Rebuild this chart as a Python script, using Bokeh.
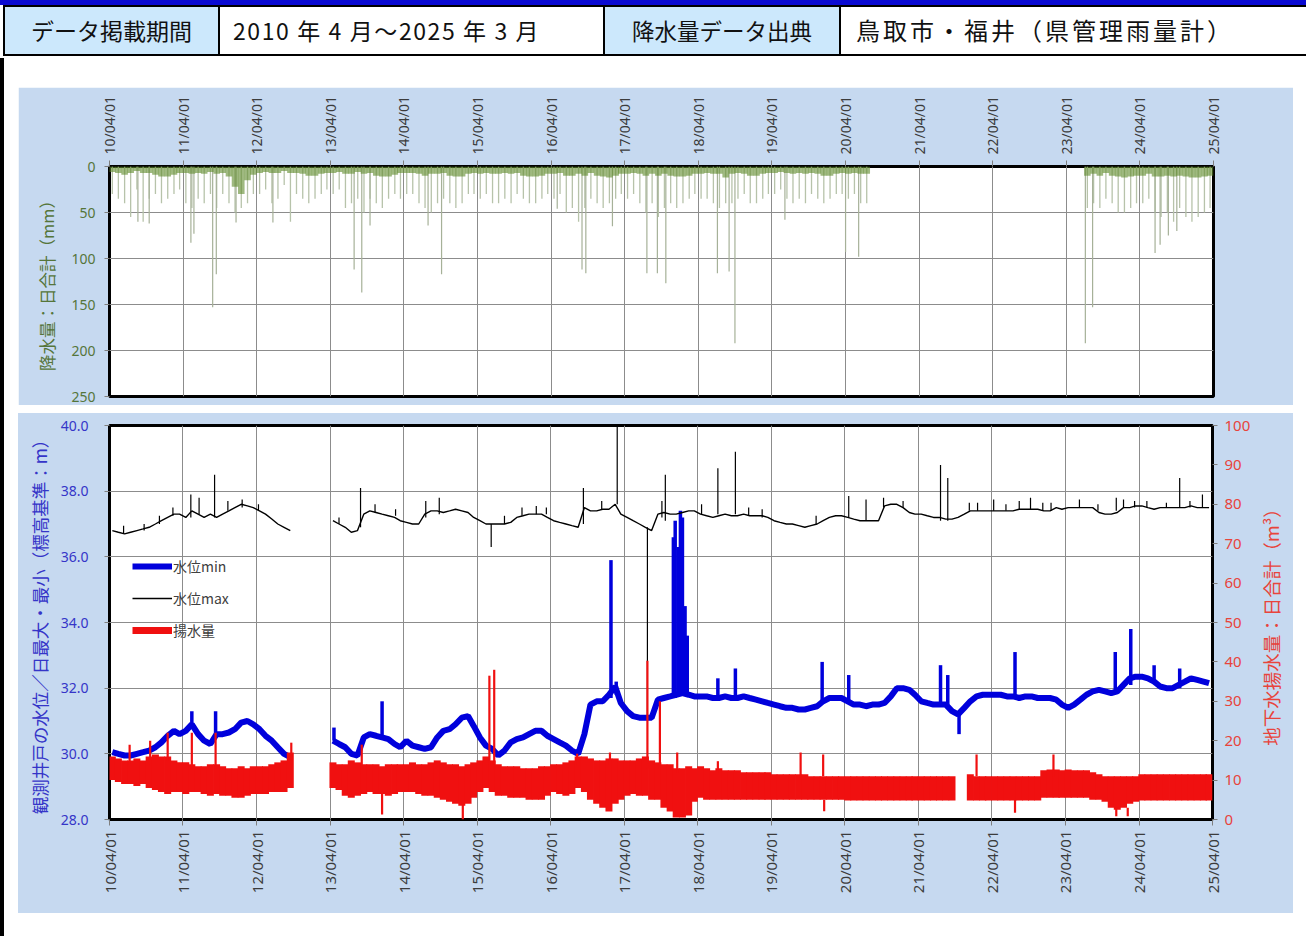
import math
import pandas as pd
from bokeh.plotting import figure
from bokeh.models import (Range1d, LinearAxis, FixedTicker, DatetimeTickFormatter,
                          NumeralTickFormatter, Div, Legend, LegendItem, Title)
from bokeh.layouts import column, row
from bokeh.embed import file_html
from bokeh.resources import INLINE

nan = float("nan")

# ------------------------------------------------------------------ data
header_cells = ["データ掲載期間", "2010 年 4 月～2025 年 3 月", "降水量データ出典", "鳥取市・福井（県管理雨量計）"]
year_ticks = ["2010-04-01", "2011-04-01", "2012-04-01", "2013-04-01", "2014-04-01", "2015-04-01",
              "2016-04-01", "2017-04-01", "2018-04-01", "2019-04-01", "2020-04-01", "2021-04-01",
              "2022-04-01", "2023-04-01", "2024-04-01", "2025-04-01"]
rain_ticks = [0, 50, 100, 150, 200, 250]
level_ticks = [28, 30, 32, 34, 36, 38, 40]
pump_ticks = [0, 10, 20, 30, 40, 50, 60, 70, 80, 90, 100]

# monthly series, April 2010 ... March 2025 (one row per fiscal year, Apr..Mar)
months = pd.date_range("2010-04-01", "2025-03-01", freq="MS") + pd.Timedelta(days=14)

level_max = [
    36.8, 36.75, 36.7, 36.75, 36.8, 36.85, 36.9, 37.0, 37.1, 37.2, 37.3, 37.3,
    37.2, 37.4, 37.3, 37.2, 37.3, 37.2, 37.3, 37.4, 37.5, 37.6, 37.55, 37.5,
    37.4, 37.3, 37.15, 37.0, 36.9, 36.8, nan, nan, nan, nan, nan, nan,
    37.1, 37.0, 36.9, 36.75, 36.8, 37.3, 37.4, 37.35, 37.3, 37.25, 37.2, 37.1,
    37.05, 37.0, 37.0, 37.3, 37.4, 37.4, 37.35, 37.4, 37.45, 37.4, 37.35, 37.2,
    37.1, 37.0, 37.0, 37.0, 37.0, 37.05, 37.2, 37.25, 37.3, 37.3, 37.3, 37.2,
    37.1, 37.05, 37.0, 36.95, 36.9, 37.5, 37.4, 37.4, 37.45, 37.45, 37.6, 37.3,
    37.2, 37.1, 37.0, 36.9, 36.8, 37.3, 37.35, 37.3, 37.3, 37.35, 37.4, 37.4,
    37.3, 37.25, 37.2, 37.25, 37.3, 37.25, 37.25, 37.3, 37.25, 37.25, 37.25, 37.2,
    37.1, 37.05, 37.0, 37.0, 36.95, 36.9, 36.95, 37.0, 37.1, 37.2, 37.25, 37.25,
    37.2, 37.15, 37.1, 37.1, 37.1, 37.1, 37.55, 37.6, 37.6, 37.5, 37.35, 37.3,
    37.3, 37.25, 37.2, 37.2, 37.15, 37.15, 37.2, 37.3, 37.4, 37.4, 37.4, 37.4,
    37.4, 37.4, 37.4, 37.4, 37.45, 37.45, 37.45, 37.45, 37.4, 37.4, 37.5, 37.45,
    37.5, 37.5, 37.5, 37.5, 37.5, 37.35, 37.3, 37.3, 37.35, 37.5, 37.5, 37.55,
    37.55, 37.5, 37.45, 37.5, 37.5, 37.5, 37.5, 37.5, 37.55, 37.5, 37.5, 37.5,
]
level_min = [
    30.05, 30.0, 29.95, 29.95, 30.0, 30.05, 30.1, 30.2, 30.35, 30.55, 30.7, 30.6,
    30.7, 30.9, 30.6, 30.4, 30.3, 30.6, 30.6, 30.65, 30.75, 30.95, 31.0, 30.9,
    30.75, 30.55, 30.4, 30.2, 30.0, 29.9, nan, nan, nan, nan, nan, nan,
    30.4, 30.3, 30.2, 30.0, 29.95, 30.5, 30.6, 30.55, 30.5, 30.45, 30.3, 30.2,
    30.4, 30.25, 30.2, 30.15, 30.2, 30.5, 30.7, 30.75, 30.9, 31.1, 31.15, 30.85,
    30.5, 30.25, 30.15, 29.95, 30.1, 30.35, 30.45, 30.5, 30.6, 30.7, 30.7, 30.55,
    30.45, 30.35, 30.25, 30.1, 30.0, 30.6, 31.5, 31.6, 31.6, 31.8, 32.05, 31.55,
    31.3, 31.15, 31.1, 31.1, 31.1, 31.65, 31.7, 31.75, 31.8, 31.85, 31.8, 31.75,
    31.75, 31.75, 31.7, 31.7, 31.75, 31.7, 31.7, 31.75, 31.7, 31.65, 31.6, 31.55,
    31.5, 31.45, 31.4, 31.4, 31.35, 31.35, 31.4, 31.45, 31.6, 31.7, 31.7, 31.7,
    31.6, 31.5, 31.5, 31.45, 31.5, 31.5, 31.55, 31.75, 32.0, 32.0, 31.95, 31.8,
    31.6, 31.55, 31.5, 31.5, 31.5, 31.3, 31.2, 31.4, 31.6, 31.75, 31.8, 31.8,
    31.8, 31.8, 31.75, 31.75, 31.7, 31.75, 31.75, 31.7, 31.7, 31.7, 31.65, 31.5,
    31.4, 31.5, 31.65, 31.8, 31.9, 31.95, 31.9, 31.85, 31.9, 32.1, 32.3, 32.35,
    32.35, 32.3, 32.2, 32.05, 32.0, 32.0, 32.1, 32.2, 32.3, 32.25, 32.2, 32.15,
]
pump_high = [
    16, 15.5, 15, 15, 15.5, 15, 16, 16.5, 16, 16, 15, 14.5,
    14.5, 14, 13.5, 13.5, 14, 14, 13.5, 13, 13, 13.5, 13, 13.5,
    13.5, 13.5, 14, 14.5, 15, 17, nan, nan, nan, nan, nan, nan,
    14.5, 14, 14, 15, 14.5, 14, 14, 14, 13.5, 14, 14, 14,
    14, 14.5, 14, 14, 14.5, 15, 14.5, 14, 14, 13.5, 14, 14.5,
    15, 16, 15, 14, 13.5, 13.5, 13.5, 13, 13, 13, 13.5, 13.5,
    14, 14, 14.5, 15, 16, 16, 15.5, 15, 15, 15.5, 15.5, 15,
    15, 15, 15.5, 16, 15, 14.5, 14, 14, 13, 13, 13.5, 13,
    13.5, 13, 12.5, 13, 12.5, 12.5, 12.5, 12, 12, 12, 12, 12,
    11.5, 11.5, 11.5, 11.5, 11.5, 11.5, 11, 11, 11, 11, 11, 11,
    11, 11, 11, 11, 11, 11, 11, 11, 11, 11, 11, 11,
    11, 11, 11, 11, 11, 11, nan, nan, 11.5, 11, 11, 11,
    11, 11, 11, 11, 11, 11, 11, 11, 12.5, 12.7, 12.7, 12.5,
    12.7, 12.5, 12.5, 12.5, 12, 11.5, 11, 11, 11, 11, 11, 11,
    11.5, 11.5, 11.5, 11.5, 11.5, 11.5, 11.5, 11.5, 11.5, 11.5, 11.5, 11.5,
]
pump_low = [
    10, 9.5, 9, 9, 8.5, 9, 8, 7.5, 7, 6.5, 7, 7,
    6.5, 7, 7, 6.5, 6, 6.5, 6, 6, 5.5, 5.5, 6, 6.5,
    6.5, 6.5, 7, 7, 7, 8, nan, nan, nan, nan, nan, nan,
    8, 7.5, 6, 5.5, 6, 6.5, 7, 6.5, 6.5, 6, 6.5, 7,
    7, 7, 6.5, 6, 6, 5.5, 5, 4.5, 4, 3.5, 4, 5.5,
    7, 8, 7, 6, 6, 5.5, 5.5, 5.5, 5, 5, 5, 6,
    7, 6.5, 6, 6.5, 8, 7, 5, 4, 3, 2, 4, 5,
    6, 6.5, 6, 6, 5, 5, 3, 2, 0.5, 0.5, 1, 4.5,
    5.5, 5, 5, 5, 5, 5, 5, 5, 5, 5, 5, 5,
    5, 5, 5, 5, 5, 5, 5, 5, 5, 5, 5, 5,
    4.8, 4.8, 4.8, 4.8, 4.8, 4.8, 4.8, 4.8, 4.8, 4.8, 4.8, 4.8,
    4.8, 4.8, 4.8, 4.8, 4.8, 4.8, nan, nan, 4.8, 4.8, 4.8, 4.8,
    4.8, 4.8, 4.8, 4.8, 4.8, 4.8, 4.8, 4.8, 5.5, 5.5, 5.5, 5.5,
    5.5, 5.5, 5.5, 5.5, 5, 5, 4.5, 3, 2.5, 3, 4, 4.5,
    4.8, 4.8, 4.8, 4.8, 4.8, 4.8, 4.8, 4.8, 4.8, 4.8, 4.8, 4.8,
]
# depth of the dense band of frequent daily rain (mm)
rain_typical = [
    6, 7, 9, 7, 5, 7, 7, 9, 11, 11, 9, 7,
    7, 8, 7, 8, 6, 8, 7, 11, 22, 30, 15, 9,
    7, 6, 7, 7, 5, 7, 7, 8, 10, 10, 8, 7,
    7, 6, 8, 8, 6, 8, 7, 10, 11, 11, 9, 7,
    7, 7, 8, 10, 8, 8, 7, 10, 11, 11, 8, 7,
    8, 7, 8, 8, 7, 8, 7, 10, 11, 11, 10, 8,
    8, 7, 10, 10, 8, 10, 7, 10, 11, 12, 10, 8,
    8, 7, 8, 10, 8, 10, 8, 10, 11, 11, 10, 8,
    8, 7, 8, 8, 12, 8, 7, 8, 10, 10, 8, 7,
    7, 6, 7, 8, 7, 8, 7, 8, 10, 10, 8, 7,
    8, 7, 8, 8, nan, nan, nan, nan, nan, nan, nan, nan,
    nan, nan, nan, nan, nan, nan, nan, nan, nan, nan, nan, nan,
    nan, nan, nan, nan, nan, nan, nan, nan, nan, nan, nan, nan,
    nan, nan, nan, 10, 8, 10, 7, 10, 11, 12, 11, 10,
    10, 8, 11, 11, 10, 11, 10, 11, 12, 12, 11, 10,
]
# largest daily rain of each month (mm)
rain_month_max = [
    30, 35, 40, 55, 25, 60, 35, 30, 40, 35, 30, 25,
    40, 45, 35, 40, 30, 45, 30, 40, 50, 45, 40, 30,
    30, 25, 40, 35, 20, 60, 30, 35, 40, 35, 30, 25,
    30, 25, 45, 40, 35, 50, 35, 40, 45, 35, 30, 35,
    30, 30, 40, 45, 50, 40, 35, 40, 45, 40, 30, 30,
    35, 30, 40, 40, 35, 40, 30, 35, 40, 40, 35, 30,
    35, 30, 50, 45, 60, 45, 35, 40, 45, 40, 35, 30,
    35, 30, 40, 50, 40, 55, 45, 40, 45, 40, 35, 30,
    35, 35, 40, 45, 40, 40, 35, 30, 40, 40, 35, 30,
    30, 25, 35, 40, 35, 40, 30, 35, 40, 35, 30, 30,
    35, 30, 40, 40, nan, nan, nan, nan, nan, nan, nan, nan,
    nan, nan, nan, nan, nan, nan, nan, nan, nan, nan, nan, nan,
    nan, nan, nan, nan, nan, nan, nan, nan, nan, nan, nan, nan,
    nan, nan, nan, 45, 40, 45, 35, 40, 50, 50, 45, 40,
    40, 35, 50, 55, 50, 60, 45, 55, 60, 55, 50, 45,
]

# individual heavy-rain days
rain_event_date = ["2010-08-20", "2010-10-15", "2011-05-10", "2011-05-25", "2011-08-26", "2011-09-13",
                   "2011-12-20", "2012-06-20", "2013-07-28", "2013-09-04", "2013-10-15", "2014-07-30",
                   "2014-10-05", "2016-05-01", "2016-09-01", "2016-09-20", "2017-01-30", "2017-07-20",
                   "2017-09-10", "2017-10-22", "2018-07-05", "2018-09-01", "2018-09-30", "2019-06-05",
                   "2020-04-01", "2020-06-05", "2023-07-05", "2023-08-10", "2024-06-15", "2024-07-10",
                   "2024-08-20", "2024-10-01"]
rain_event_mm = [60, 62, 83, 73, 153, 117, 61, 61, 112, 137, 64, 64, 117, 46, 112, 116, 65, 116,
                 116, 127, 116, 114, 192, 58, 93, 98, 192, 153, 94, 85, 75, 70]

# spikes of the daily minimum level
min_spike_date = ["2011-05-15", "2011-09-10", "2013-04-20", "2013-12-15", "2017-01-25", "2017-02-20",
                  "2017-12-01", "2017-12-10", "2017-12-25", "2018-01-05", "2018-01-15", "2018-01-28",
                  "2018-02-08", "2018-07-10", "2018-10-05", "2019-12-10", "2020-04-20", "2021-07-20",
                  "2021-08-25", "2021-10-20", "2022-07-25", "2023-12-05", "2024-02-20", "2024-06-15",
                  "2024-10-20"]
min_spike_from = [30.9, 30.6, 30.4, 30.5, 31.7, 31.8, 31.7, 31.7, 31.75, 31.8, 31.8, 31.85, 31.85,
                  31.7, 31.7, 31.6, 31.6, 31.5, 31.5, 31.3, 31.75, 31.9, 32.1, 32.2, 32.0]
min_spike_to = [31.3, 31.3, 30.8, 31.6, 35.9, 32.2, 36.6, 37.1, 36.3, 37.4, 37.2, 34.5, 33.6,
                32.3, 32.6, 32.8, 32.4, 32.7, 32.4, 30.6, 33.1, 33.1, 33.8, 32.7, 32.6]

# spikes of the daily maximum level
max_spike_date = ["2010-06-10", "2010-09-20", "2010-12-05", "2011-02-10", "2011-05-10", "2011-06-20",
                  "2011-09-05", "2011-11-10", "2012-01-20", "2012-04-10", "2013-05-15", "2013-08-30",
                  "2013-11-10", "2014-02-20", "2014-07-20", "2014-09-25", "2015-06-10", "2015-08-15",
                  "2015-11-10", "2016-01-20", "2016-03-10", "2016-09-10", "2016-12-10", "2017-02-25",
                  "2017-07-25", "2017-10-05", "2017-10-22", "2018-04-20", "2018-07-10", "2018-10-05",
                  "2018-12-10", "2019-02-15", "2019-11-10", "2020-04-20", "2020-07-15", "2020-10-10",
                  "2021-01-15", "2021-07-20", "2021-08-25", "2021-12-10", "2022-01-20", "2022-04-10",
                  "2022-06-10", "2022-08-15", "2022-10-10", "2022-12-10", "2023-01-20", "2023-06-10",
                  "2023-09-10", "2023-12-10", "2024-01-15", "2024-03-10", "2024-05-10", "2024-08-15",
                  "2024-10-20", "2024-12-10", "2025-02-10"]
max_spike_from = [36.7, 36.8, 37.0, 37.25, 37.2, 37.3, 37.2, 37.4, 37.5, 37.4, 37.0, 36.9,
                  37.35, 37.25, 37.2, 37.3, 37.0, 37.0, 37.25, 37.3, 37.3, 37.0, 37.45, 37.6,
                  36.9, 37.2, 37.1, 37.3, 37.3, 37.3, 37.25, 37.2, 37.0, 37.2, 37.1, 37.5,
                  37.5, 37.1, 37.1, 37.4, 37.4, 37.4, 37.4, 37.45, 37.45, 37.4, 37.4, 37.5,
                  37.4, 37.4, 37.5, 37.5, 37.5, 37.5, 37.5, 37.5, 37.5]
max_spike_to = [36.95, 37.0, 37.25, 37.5, 37.9, 37.8, 38.5, 37.7, 37.75, 37.6, 37.2, 38.1,
                37.6, 37.45, 37.7, 37.8, 36.3, 37.25, 37.5, 37.55, 37.5, 38.1, 37.7, 40.0,
                31.1, 37.7, 38.5, 37.6, 38.7, 39.2, 37.5, 37.45, 37.25, 37.85, 37.75, 37.8,
                37.7, 38.8, 38.4, 37.65, 37.65, 37.75, 37.6, 37.7, 37.8, 37.65, 37.65, 37.75,
                37.6, 37.8, 37.75, 37.7, 37.7, 37.65, 38.4, 37.7, 37.9]

# spikes of the daily pumping volume
pump_spike_date = ["2010-07-10", "2010-10-20", "2011-01-15", "2011-05-15", "2011-09-10", "2012-09-20",
                   "2013-09-05", "2013-12-15", "2015-01-20", "2015-06-01", "2015-06-25", "2016-08-10",
                   "2017-01-20", "2017-07-25", "2017-09-25", "2017-12-20", "2018-07-10", "2019-08-25",
                   "2019-12-15", "2019-12-20", "2022-01-15", "2022-07-25", "2023-02-01", "2023-12-10",
                   "2024-02-05"]
pump_spike_from = [14, 14, 15, 13, 13, 15, 13, 7, 4, 14, 14, 14, 14, 13, 13, 12, 12, 11,
                   11, 5, 11, 5, 11, 3, 3]
pump_spike_to = [19, 20, 22, 22, 22, 19.5, 19, 1.3, 0, 36.5, 38, 16.7, 17, 40.3, 30, 17, 14.8, 17,
                 16.5, 2.1, 16.5, 1.7, 16.5, 0.8, 0.8]

# ------------------------------------------------------------------ style
JP = "Noto Sans CJK JP"
LAT = "Noto Sans"
BG = "#c6d9f0"
GRID = "#8c8c8c"
X0, X1 = pd.Timestamp("2010-04-01"), pd.Timestamp("2025-04-01")
tick_ms = [pd.Timestamp(d).value // 10**6 for d in year_ticks]
FMT = "%y/%m/%d"


def date_formatter():
    return DatetimeTickFormatter(microseconds=FMT, milliseconds=FMT, seconds=FMT, minsec=FMT,
                                 minutes=FMT, hourmin=FMT, hours=FMT, days=FMT, months=FMT, years=FMT)


def style_xaxis(ax, size):
    ax.ticker = FixedTicker(ticks=tick_ms)
    ax.formatter = date_formatter()
    ax.major_label_orientation = math.pi / 2
    ax.major_label_text_font = LAT
    ax.major_label_text_font_size = size
    ax.major_label_text_color = "#3c3c3c"
    ax.major_tick_out = 6
    ax.major_tick_in = 0
    ax.minor_tick_out = 0
    ax.minor_tick_in = 0
    ax.axis_line_color = None
    ax.major_tick_line_color = "#7f7f7f"
    ax.major_label_standoff = 6


def style_yaxis(ax, color, size):
    ax.major_label_text_font = LAT
    ax.major_label_text_font_size = size
    ax.major_label_text_color = color
    ax.axis_label_text_font = JP
    ax.axis_label_text_font_style = "normal"
    ax.axis_label_text_color = color
    ax.major_tick_out = 5
    ax.major_tick_in = 0
    ax.minor_tick_out = 0
    ax.minor_tick_in = 0
    ax.axis_line_color = None
    ax.major_tick_line_color = "#7f7f7f"


def base_figure(width, height, top, bottom, right, y_range, x_loc):
    p = figure(width=width, height=height, x_axis_type="datetime", x_axis_location=x_loc,
               x_range=Range1d(X0, X1), y_range=y_range, output_backend="svg",
               toolbar_location=None, min_border_left=91, min_border_right=right,
               min_border_top=top, min_border_bottom=bottom,
               background_fill_color="white", border_fill_color=BG)
    p.outline_line_color = "black"
    p.outline_line_width = 3
    p.xgrid.ticker = FixedTicker(ticks=tick_ms)
    p.grid.grid_line_color = GRID
    p.grid.grid_line_width = 1
    return p


# ------------------------------------------------------------------ rain panel
p1 = base_figure(1275, 318, 79, 9, 80, Range1d(250, 0), "above")
p1.margin = (29, 0, 0, 18)
style_xaxis(p1.xaxis[0], "14px")
ya = p1.yaxis[0]
ya.ticker = FixedTicker(ticks=rain_ticks)
p1.ygrid.ticker = FixedTicker(ticks=rain_ticks)
style_yaxis(ya, "#55753a", "14px")
ya.axis_label = "降水量：日合計（mm）"
ya.axis_label_text_font_size = "16.5px"
ya.axis_label_standoff = 9
ya.major_label_standoff = 9

zeros = [0] * len(months)
p1.segment(x0=months, y0=zeros, x1=months, y1=rain_month_max,
           line_color="#b7c3aa", line_width=1.3)
ev_dates = pd.to_datetime(rain_event_date)
p1.segment(x0=ev_dates, y0=[0] * len(ev_dates), x1=ev_dates, y1=rain_event_mm,
           line_color="#a6b198", line_width=1.2)
p1.segment(x0=months, y0=zeros, x1=months, y1=rain_typical,
           line_color="#5f8b2c", line_width=6.6, line_alpha=0.6)

# ------------------------------------------------------------------ level / pumping panel
p2 = base_figure(1235, 500, 12, 94, 40, Range1d(28, 40), "below")
p2.margin = (0, 0, 0, 0)
p2.extra_y_ranges = {"pump": Range1d(0, 100)}
style_xaxis(p2.xaxis[0], "15px")
p2.xaxis[0].major_label_standoff = 5
ly = p2.yaxis[0]
ly.ticker = FixedTicker(ticks=level_ticks)
p2.ygrid.ticker = FixedTicker(ticks=level_ticks)
ly.formatter = NumeralTickFormatter(format="0.0")
style_yaxis(ly, "#3535c8", "14px")
ly.axis_label = "観測井戸の水位／日最大・最小（標高基準：m）"
ly.axis_label_text_font_size = "17.5px"
ly.axis_label_standoff = 6
ly.major_label_standoff = 16

ry = LinearAxis(y_range_name="pump", ticker=FixedTicker(ticks=pump_ticks))
style_yaxis(ry, "#e8443c", "15px")
ry.major_label_standoff = 7
p2.add_layout(ry, "right")

r_min = p2.line(months, level_min, line_color="#0000dc", line_width=6)
d = pd.to_datetime(min_spike_date)
p2.segment(x0=d, y0=min_spike_from, x1=d, y1=min_spike_to, line_color="#0000dc", line_width=3.5)

r_max = p2.line(months, level_max, line_color="black", line_width=1.4)
d = pd.to_datetime(max_spike_date)
p2.segment(x0=d, y0=max_spike_from, x1=d, y1=max_spike_to, line_color="black", line_width=1.2)

r_pump = p2.segment(x0=months, y0=pump_low, x1=months, y1=pump_high, line_color="#f01010",
                    line_width=7, y_range_name="pump")
d = pd.to_datetime(pump_spike_date)
p2.segment(x0=d, y0=pump_spike_from, x1=d, y1=pump_spike_to, line_color="#f01010",
           line_width=2.2, y_range_name="pump")

legend = Legend(items=[LegendItem(label="水位min", renderers=[r_min]),
                       LegendItem(label="水位max", renderers=[r_max]),
                       LegendItem(label="揚水量", renderers=[r_pump])],
                location=(23, 179), orientation="vertical")
legend.label_text_font = JP
legend.label_text_font_size = "14px"
legend.label_text_color = "#404040"
legend.glyph_width = 40
legend.glyph_height = 20
legend.label_height = 20
legend.label_standoff = 1
legend.spacing = 12
legend.padding = 0
legend.margin = 0
legend.background_fill_alpha = 0
legend.border_line_alpha = 0
p2.add_layout(legend)

# strip on the right of the lower chart holding the pumping-axis title (reads bottom to top)
p3 = figure(width=40, height=500, output_backend="svg", toolbar_location=None,
            x_axis_location=None, y_axis_location=None,
            min_border_left=30, min_border_right=0, min_border_top=12, min_border_bottom=94,
            background_fill_color=BG, border_fill_color=BG)
p3.outline_line_color = None
p3.grid.visible = False
p3.margin = (0, 0, 0, 0)
p3.add_layout(Title(text="地下水揚水量：日合計（m³）", align="center", text_font=JP,
                    text_font_size="18.5px", text_font_style="normal", text_color="#e8443c",
                    standoff=0, offset=0), "left")

lower = row(p2, p3, spacing=0, margin=(8, 0, 0, 18), styles={"background": BG})

# ------------------------------------------------------------------ header table
cell = ("border:2px solid #000;height:49px;color:#111;padding:0;"
        "white-space:nowrap;overflow:hidden;")
html = (
    '<div style="position:relative;width:1306px;height:58px;background:#fff;'
    "font-family:'Noto Sans CJK JP',sans-serif;\">"
    '<div style="position:absolute;left:0;top:0;width:1306px;height:5px;background:#0a0ad2;"></div>'
    '<table style="position:absolute;left:3px;top:5px;border-collapse:collapse;table-layout:fixed;'
    'width:1305px;">'
    "<tr>"
    f'<td style="{cell}width:215px;font-size:23px;background:#cce8fc;text-align:center;">{header_cells[0]}</td>'
    f'<td style="{cell}width:385px;font-size:23px;letter-spacing:1.6px;background:#fff;text-align:left;'
    f'padding-left:13px;">{header_cells[1]}</td>'
    f'<td style="{cell}width:236px;font-size:22.5px;background:#cce8fc;text-align:center;">{header_cells[2]}</td>'
    f'<td style="{cell}font-size:24px;letter-spacing:3px;background:#fff;text-align:left;'
    f'padding-left:15px;">{header_cells[3]}</td>'
    "</tr></table></div>"
)
header = Div(text=html, width=1306, height=58, margin=(0, 0, 0, 0))

root = column(header, p1, lower, spacing=0,
              styles={"position": "absolute", "left": "0px", "top": "0px",
                      "background": "linear-gradient(to right, #000 0px, #000 4px, #fff 4px)",
                      "width": "1306px", "height": "936px"})

open("out.html", "w").write(file_html(root, INLINE))
